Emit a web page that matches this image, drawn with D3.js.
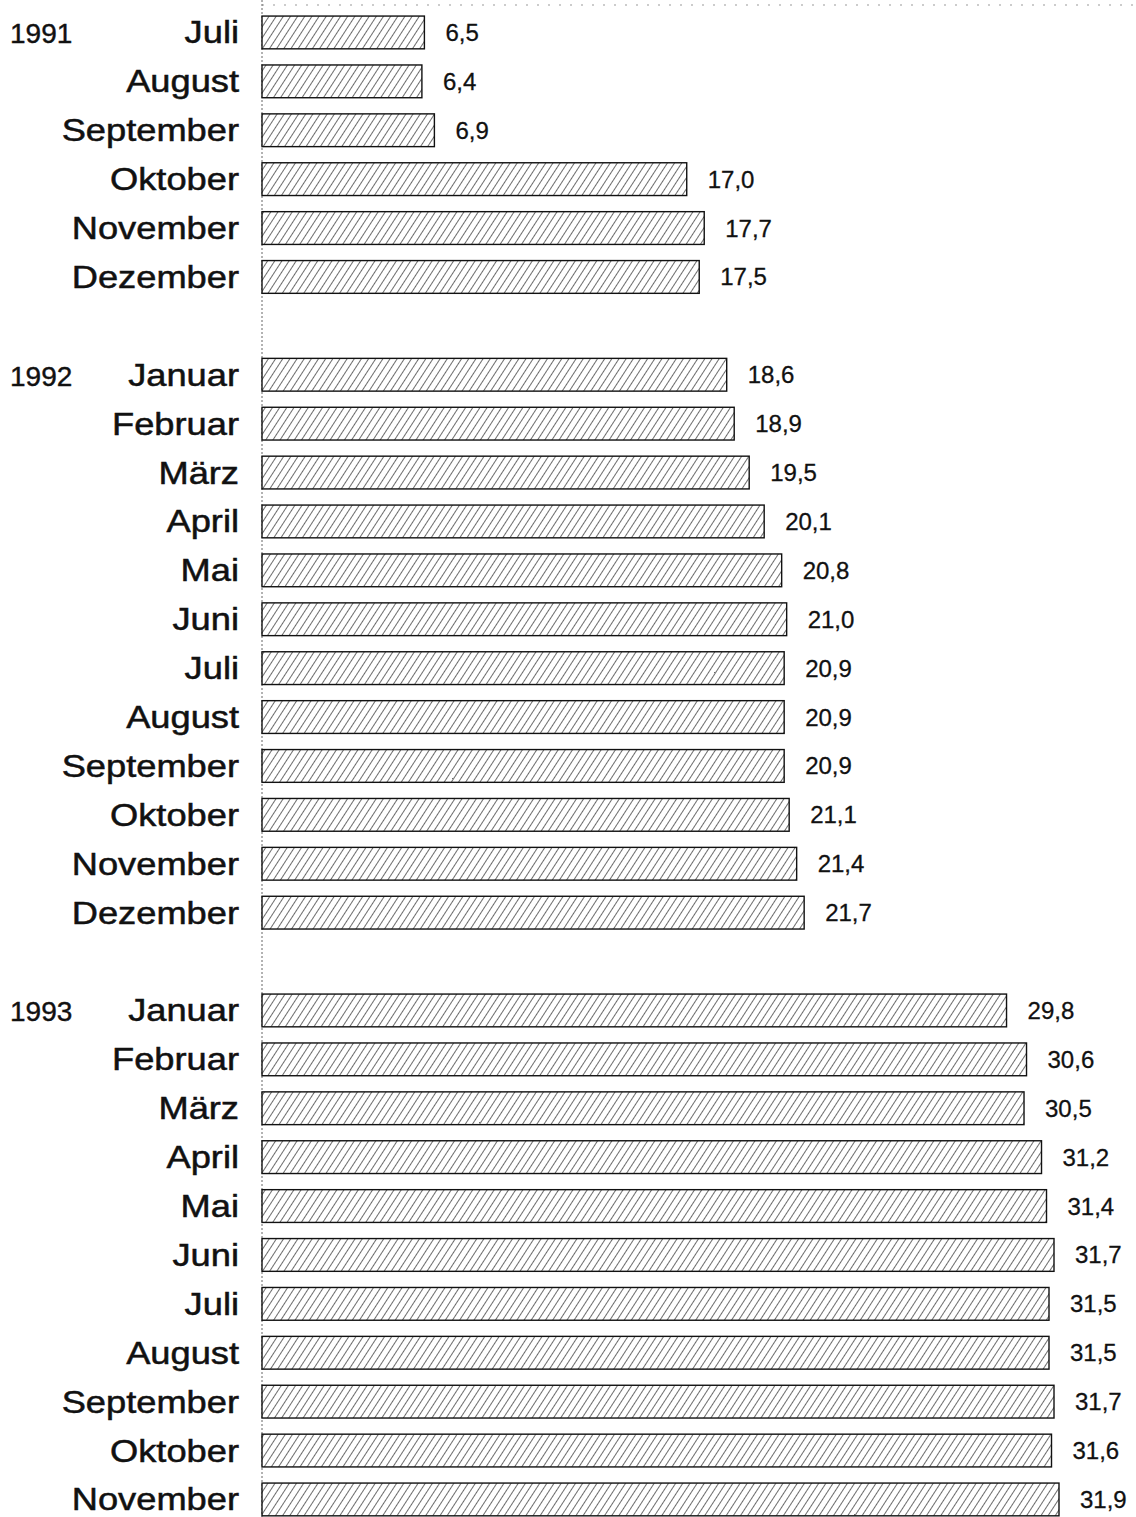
<!DOCTYPE html>
<html><head><meta charset="utf-8">
<script src="https://cdn.jsdelivr.net/npm/d3@7"></script>
<style>html,body{margin:0;padding:0;background:#fff;}svg{display:block;}</style>
</head><body>
<svg id="chart" width="1136" height="1517"></svg>
<script>
const years = ["1991", "1992", "1993"];
const months1991 = ["Juli","August","September","Oktober","November","Dezember"];
const values1991 = [6.5, 6.4, 6.9, 17.0, 17.7, 17.5];
const months1992 = ["Januar","Februar","März","April","Mai","Juni","Juli","August","September","Oktober","November","Dezember"];
const values1992 = [18.6, 18.9, 19.5, 20.1, 20.8, 21.0, 20.9, 20.9, 20.9, 21.1, 21.4, 21.7];
const months1993 = ["Januar","Februar","März","April","Mai","Juni","Juli","August","September","Oktober","November"];
const values1993 = [29.8, 30.6, 30.5, 31.2, 31.4, 31.7, 31.5, 31.5, 31.7, 31.6, 31.9];

const groups = [
  {year: years[0], months: months1991, values: values1991},
  {year: years[1], months: months1992, values: values1992},
  {year: years[2], months: months1993, values: values1993}
];
const rows = [];
groups.forEach((g, gi) => {
  if (gi > 0) rows.push({key: "gap" + gi, spacer: true});
  g.months.forEach((m, i) => rows.push({key: g.year + "-" + m, month: m, value: g.values[i], year: i === 0 ? g.year : null}));
});

const svg = d3.select("#chart");
const W = 1136, H = 1517;
const x = d3.scaleLinear().domain([0, 31.9]).range([262, 1059]);
const y = d3.scaleBand().domain(rows.map(r => r.key)).range([8, 8 + rows.length * 48.9]).paddingInner(0.33).paddingOuter(0.165);

const defs = svg.append("defs");
const pat = defs.append("pattern").attr("id", "hatch").attr("patternUnits", "userSpaceOnUse")
  .attr("width", 6).attr("height", 6).attr("patternTransform", "rotate(33)");
pat.append("rect").attr("width", 6).attr("height", 6).attr("fill", "#fff");
pat.append("line").attr("x1", 0).attr("y1", 0).attr("x2", 0).attr("y2", 6).attr("stroke", "#1e1e1e").attr("stroke-width", 1.3);

// top faint dotted line
svg.append("line").attr("x1", x(0)).attr("x2", W).attr("y1", 5).attr("y2", 5)
  .attr("stroke", "#999").attr("stroke-width", 1).attr("stroke-dasharray", "2,9");
// vertical axis
svg.append("line").attr("x1", x(0)).attr("x2", x(0)).attr("y1", 0).attr("y2", H)
  .attr("stroke", "#666").attr("stroke-width", 1).attr("stroke-dasharray", "2,2");

const data = rows.filter(r => !r.spacer);
svg.selectAll("rect.bar").data(data).join("rect").attr("class", "bar")
  .attr("x", x(0)).attr("y", d => y(d.key))
  .attr("width", d => x(d.value) - x(0)).attr("height", y.bandwidth())
  .attr("fill", "url(#hatch)").attr("stroke", "#111").attr("stroke-width", 1.4);

const font = "'Liberation Sans', Arial, Helvetica, sans-serif";
svg.selectAll("text.month").data(data).join("text").attr("class", "month")
  .attr("transform", d => `translate(239,${y(d.key) + y.bandwidth()/2 + 11}) scale(1.17,1)`)
  .attr("text-anchor", "end").attr("font-family", font).attr("font-size", 31).attr("fill", "#111")
  .attr("stroke", "#111").attr("stroke-width", 0.5)
  .text(d => d.month);

svg.selectAll("text.year").data(data.filter(d => d.year)).join("text").attr("class", "year")
  .attr("x", 10).attr("y", d => y(d.key) + y.bandwidth()/2 + 11)
  .attr("font-family", font).attr("font-size", 28).attr("fill", "#111")
  .attr("stroke", "#111").attr("stroke-width", 0.4)
  .text(d => d.year);

svg.selectAll("text.val").data(data).join("text").attr("class", "val")
  .attr("x", d => x(d.value) + 21).attr("y", d => y(d.key) + y.bandwidth()/2 + 8.5)
  .attr("font-family", font).attr("font-size", 24).attr("fill", "#111")
  .attr("stroke", "#111").attr("stroke-width", 0.3)
  .text(d => d.value.toFixed(1).replace(".", ","));
</script>
</body></html>
